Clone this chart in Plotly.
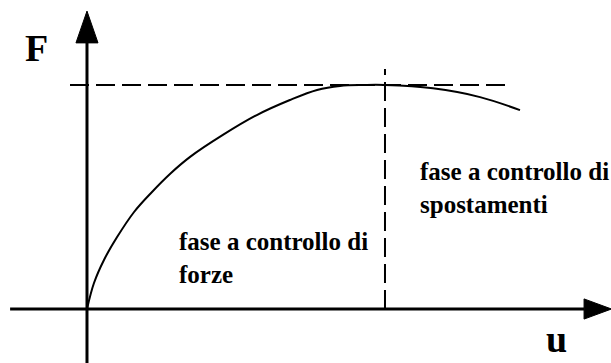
import plotly.graph_objects as go

# Curve F(u) (normalised: peak at u=1, F=1)
u_vals = [0.0, 0.0235, 0.057, 0.101, 0.158, 0.215, 0.282, 0.346, 0.456, 0.570, 0.681, 0.772, 0.849, 0.93, 1.0, 1.161, 1.319, 1.453]
F_vals = [0.0, 0.116, 0.219, 0.321, 0.433, 0.518, 0.607, 0.679, 0.777, 0.866, 0.933, 0.978, 0.996, 1.0, 1.0, 0.985, 0.946, 0.888]

# reference lines
F_peak = 1.0
u_peak = 1.0
hdash_u = [-0.057, 1.403]
vdash_F = [0.0, 1.071]

# axis extents
x_axis_u = [-0.258, 1.668]
x_arrow_tip = 1.76
y_axis_F = [-0.25, 1.188]
y_arrow_tip = 1.33

labels_left = "fase a controllo di<br>forze"
labels_right = "fase a controllo di<br>spostamenti"

SERIF = "Liberation Serif, Times New Roman, DejaVu Serif, serif"

fig = go.Figure()

fig.add_trace(go.Scatter(x=hdash_u, y=[F_peak, F_peak], mode="lines",
                         line=dict(color="black", width=2, dash="19px,7px"), hoverinfo="skip"))
fig.add_trace(go.Scatter(x=[u_peak, u_peak], y=vdash_F, mode="lines",
                         line=dict(color="black", width=2, dash="19px,7px"), hoverinfo="skip"))
fig.add_trace(go.Scatter(x=u_vals, y=F_vals, mode="lines", line_shape="spline",
                         line=dict(color="black", width=2), hoverinfo="skip"))

# axes
fig.add_trace(go.Scatter(x=x_axis_u, y=[0, 0], mode="lines",
                         line=dict(color="black", width=3), hoverinfo="skip"))
fig.add_trace(go.Scatter(x=[0, 0], y=y_axis_F, mode="lines",
                         line=dict(color="black", width=3), hoverinfo="skip"))

# arrowheads
ah_w = 0.037
ah_h = 0.045
fig.add_shape(type="path",
              path=f"M {-ah_w} {y_axis_F[1]} L {ah_w} {y_axis_F[1]} L 0 {y_arrow_tip} Z",
              fillcolor="black", line=dict(color="black", width=1))
fig.add_shape(type="path",
              path=f"M {x_axis_u[1]} {-ah_h} L {x_axis_u[1]} {ah_h} L {x_arrow_tip} 0 Z",
              fillcolor="black", line=dict(color="black", width=1))

font_lbl = dict(family=SERIF, size=25, color="black")
fig.add_annotation(x=0.302, y=0.37, text=f"<b>{labels_left}</b>", showarrow=False,
                   xanchor="left", yanchor="top", align="left", font=font_lbl)
fig.add_annotation(x=1.111, y=0.682, text=f"<b>{labels_right}</b>", showarrow=False,
                   xanchor="left", yanchor="top", align="left", font=font_lbl)

font_ax = dict(family=SERIF, size=38, color="black")
fig.add_annotation(x=-0.171, y=1.165, text="<b>F</b>", showarrow=False,
                   xanchor="center", yanchor="middle", font=font_ax)
fig.add_annotation(x=1.577, y=-0.135, text="<b>u</b>", showarrow=False,
                   xanchor="center", yanchor="middle", font=font_ax)

fig.update_layout(
    width=611, height=363,
    margin=dict(l=0, r=0, t=0, b=0),
    paper_bgcolor="white", plot_bgcolor="white",
    showlegend=False,
    font=dict(family=SERIF),
    xaxis=dict(range=[-0.2919, 1.7584], visible=False, fixedrange=True),
    yaxis=dict(range=[-0.2411, 1.3795], visible=False, fixedrange=True),
)

fig.write_html("out.html", config={"displayModeBar": False},
               post_script="document.body.style.margin='0';document.body.style.overflow='hidden';")
